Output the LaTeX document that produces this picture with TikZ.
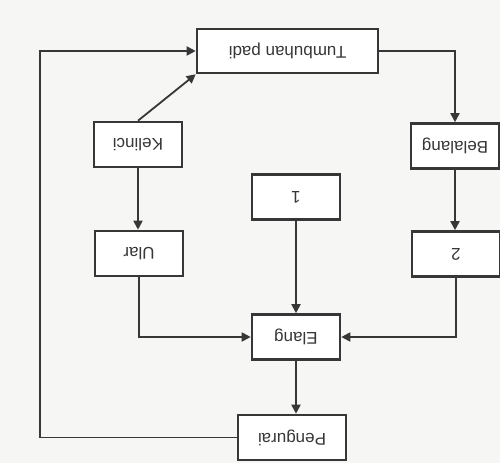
\documentclass[tikz,border=0pt]{standalone}
\usepackage{fontspec}
\setmainfont{Liberation Sans}
\usepackage{graphicx}
\usetikzlibrary{arrows.meta}

\definecolor{kertas}{RGB}{246,246,244}
\definecolor{tinta}{RGB}{55,55,55}
\tikzstyle{box}=[draw=tinta,line width=2.6pt,fill=white,inner sep=0pt,minimum width=88pt,minimum height=45pt,text=tinta,font=\fontsize{17}{20}\selectfont]
\tikzstyle{edge} = [draw=tinta,line width=1.8pt,-{Triangle[length=9pt,width=9pt]}]
\newcommand{\terbalik}[1]{\rotatebox{180}{#1}}

\begin{document}
\begin{tikzpicture}[x=1pt, y=-1pt]
    \fill[kertas] (0,0) rectangle (500,463);
    \useasboundingbox (0,0) rectangle (500,463);
    % First we draw the boxes (text upside down as in the scan)
    \node[box, minimum width=181pt, minimum height=44pt] (tumbuhan) at (287.5,51) {\terbalik{Tumbuhan padi}};
    \foreach \pos/\name/\isi in {{(138,144.5)/kelinci/Kelinci}, {(455,146)/belalang/Belalang},
                                 {(296,197)/satu/1}, {(139,253.5)/ular/Ular},
                                 {(456,254)/dua/2}, {(296,337)/elang/Elang}}
        \node[box] (\name) at \pos {\terbalik{\isi}};
    \node[box, minimum width=108pt] (pengurai) at (292,437.5) {\terbalik{Pengurai}};
    \coordinate (kiri) at (40,300);
    % Connect boxes with arrows
    \foreach \source/ \dest in {kelinci.north/tumbuhan.south west, satu/elang}
        \path[edge] (\source) -- (\dest);
    \foreach \source/ \dest in {kelinci/ular, belalang/dua, elang/pengurai}
        \path[edge] (\source.south) -- (\source.south |- \dest.north);
    \path[edge] (tumbuhan.east) -| (belalang.north);
    \path[edge] (ular.south) |- (elang.west);
    \path[edge] (dua.south) |- (elang.east);
    \path[edge] (pengurai.west) -| (kiri) |- (tumbuhan.west);
\end{tikzpicture}
\end{document}
